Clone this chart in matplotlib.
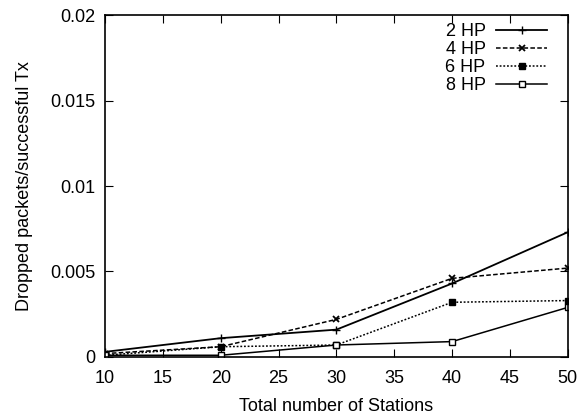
import matplotlib
matplotlib.use('Agg')
import matplotlib.pyplot as plt

plt.rcParams['font.family'] = ['Liberation Sans', 'DejaVu Sans']

stations = [10, 20, 30, 40, 50]
hp2 = [0.0003, 0.0011, 0.0016, 0.0043, 0.0073]
hp4 = [0.0002, 0.0006, 0.0022, 0.0046, 0.0052]
hp6 = [0.0001, 0.0006, 0.0007, 0.0032, 0.0033]
hp8 = [0.0001, 0.0001, 0.0007, 0.0009, 0.0029]

fig = plt.figure(figsize=(5.8, 4.15), dpi=100)
ax = fig.add_axes([0.181, 0.1398, 0.798, 0.824])

ax.plot(stations, hp2, color='black', lw=1.3, ls='-', marker='+', ms=6, label='2 HP')
ax.plot(stations, hp4, color='black', lw=1.1, ls=(0, (3, 1.5)), marker='x', ms=5, mew=1.3, label='4 HP')
ax.plot(stations, hp6, color='black', lw=1.1, ls=(0, (1.2, 1.2)), marker='s', ms=4, label='6 HP')
ax.plot(stations, hp8, color='black', lw=1.1, ls='-', marker='s', mfc='white', ms=5, label='8 HP')

ax.set_xlim(10, 50)
ax.set_ylim(0, 0.02)
ax.set_xticks(range(10, 51, 5))
ax.set_yticks([0, 0.005, 0.01, 0.015, 0.02])
ax.set_yticklabels(['0', '0.005', '0.01', '0.015', '0.02'])
ax.tick_params(direction='in', top=True, right=True, labelsize=13, length=6, pad=7)
ax.tick_params(axis='x', pad=9.5)
for s in ax.spines.values():
    s.set_linewidth(1.2)

ax.set_xlabel('Total number of Stations', fontsize=13, labelpad=8)
ax.set_ylabel('Dropped packets/successful Tx', fontsize=13, labelpad=12)

ax.legend(loc='upper right', bbox_to_anchor=(0.955, 0.976), frameon=False,
          markerfirst=False, fontsize=13, handlelength=2.8, handletextpad=0.6,
          borderaxespad=0, borderpad=0, labelspacing=0.05)

fig.savefig('out.png', dpi=100)
